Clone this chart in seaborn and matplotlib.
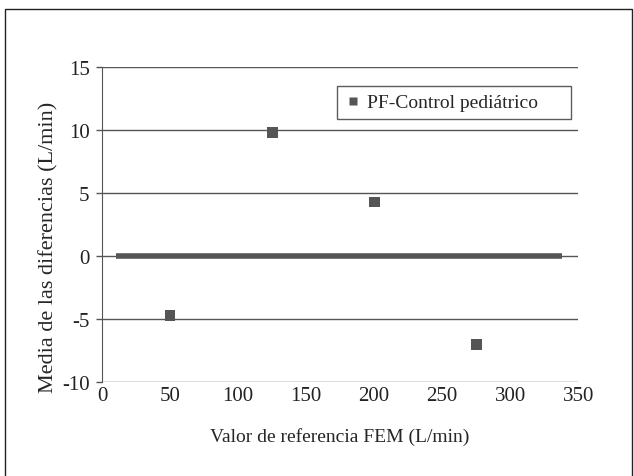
import seaborn as sns
import matplotlib.pyplot as plt
import pandas as pd
from matplotlib.patches import Rectangle

# Data
fem_ref = [50, 125, 200, 275]
mean_diff = [-4.7, 9.8, 4.3, -7.0]
zero_x = [10, 338]
zero_y = [0, 0]
series_label = "PF-Control pediátrico"
y_ticks = [-10, -5, 0, 5, 10, 15]
x_ticks = [0, 50, 100, 150, 200, 250, 300, 350]

sns.set_style("white")
plt.rcParams['font.family'] = ['Liberation Serif', 'DejaVu Serif']
plt.rcParams['axes.unicode_minus'] = False

fig = plt.figure(figsize=(6.34, 4.77), dpi=100)
ax = fig.add_axes([0.161, 0.197, 0.751, 0.660])

# Horizontal grid lines
for yv in y_ticks:
    ax.axhline(yv, color='#555555', lw=1.0, zorder=1)

# Zero line (thick)
sns.lineplot(x=zero_x, y=zero_y, color='#555555', lw=4, ax=ax, zorder=2,
             solid_capstyle='butt')

# Points
df = pd.DataFrame({'x': fem_ref, 'y': mean_diff, 'serie': series_label})
sns.scatterplot(data=df, x='x', y='y', hue='serie', palette=['#555555'],
                marker='s', s=60, edgecolor='none', ax=ax, zorder=3)

ax.set_xlim(0, 350)
ax.set_ylim(-10, 15)
ax.set_xticks(x_ticks)
ax.set_yticks(y_ticks)
ax.tick_params(axis='both', labelsize=15, colors='#222222')
ax.tick_params(axis='y', length=4, width=1, color='#555555', left=True, pad=5)
ax.tick_params(axis='x', length=0, pad=3)

for side in ['top', 'right', 'bottom']:
    ax.spines[side].set_visible(False)
ax.spines['left'].set_color('#555555')

ax.set_xlabel("Valor de referencia FEM (L/min)", fontsize=14, labelpad=16)
ax.set_ylabel("Media de las diferencias (L/min)", fontsize=16)
ax.yaxis.set_label_coords(-0.092, 0.43)

# legend box stretched to the reference width
leg = ax.legend(loc='upper left', bbox_to_anchor=(0.494, 0.84, 0.4916, 0.1),
                mode='expand', fontsize=14, frameon=True, fancybox=False,
                handlelength=0.8, handletextpad=0.35, borderpad=0.4,
                borderaxespad=0, markerscale=0.8)
leg.get_frame().set_edgecolor('#333333')
leg.get_frame().set_linewidth(1.0)

# Outer frame
fig.patches.append(Rectangle((5 / 634, -0.02), 627 / 634, 1 - 10 / 477 + 0.02,
                             transform=fig.transFigure, fill=False,
                             edgecolor='#222222', lw=1.0))

fig.savefig("out.png", dpi=100)
